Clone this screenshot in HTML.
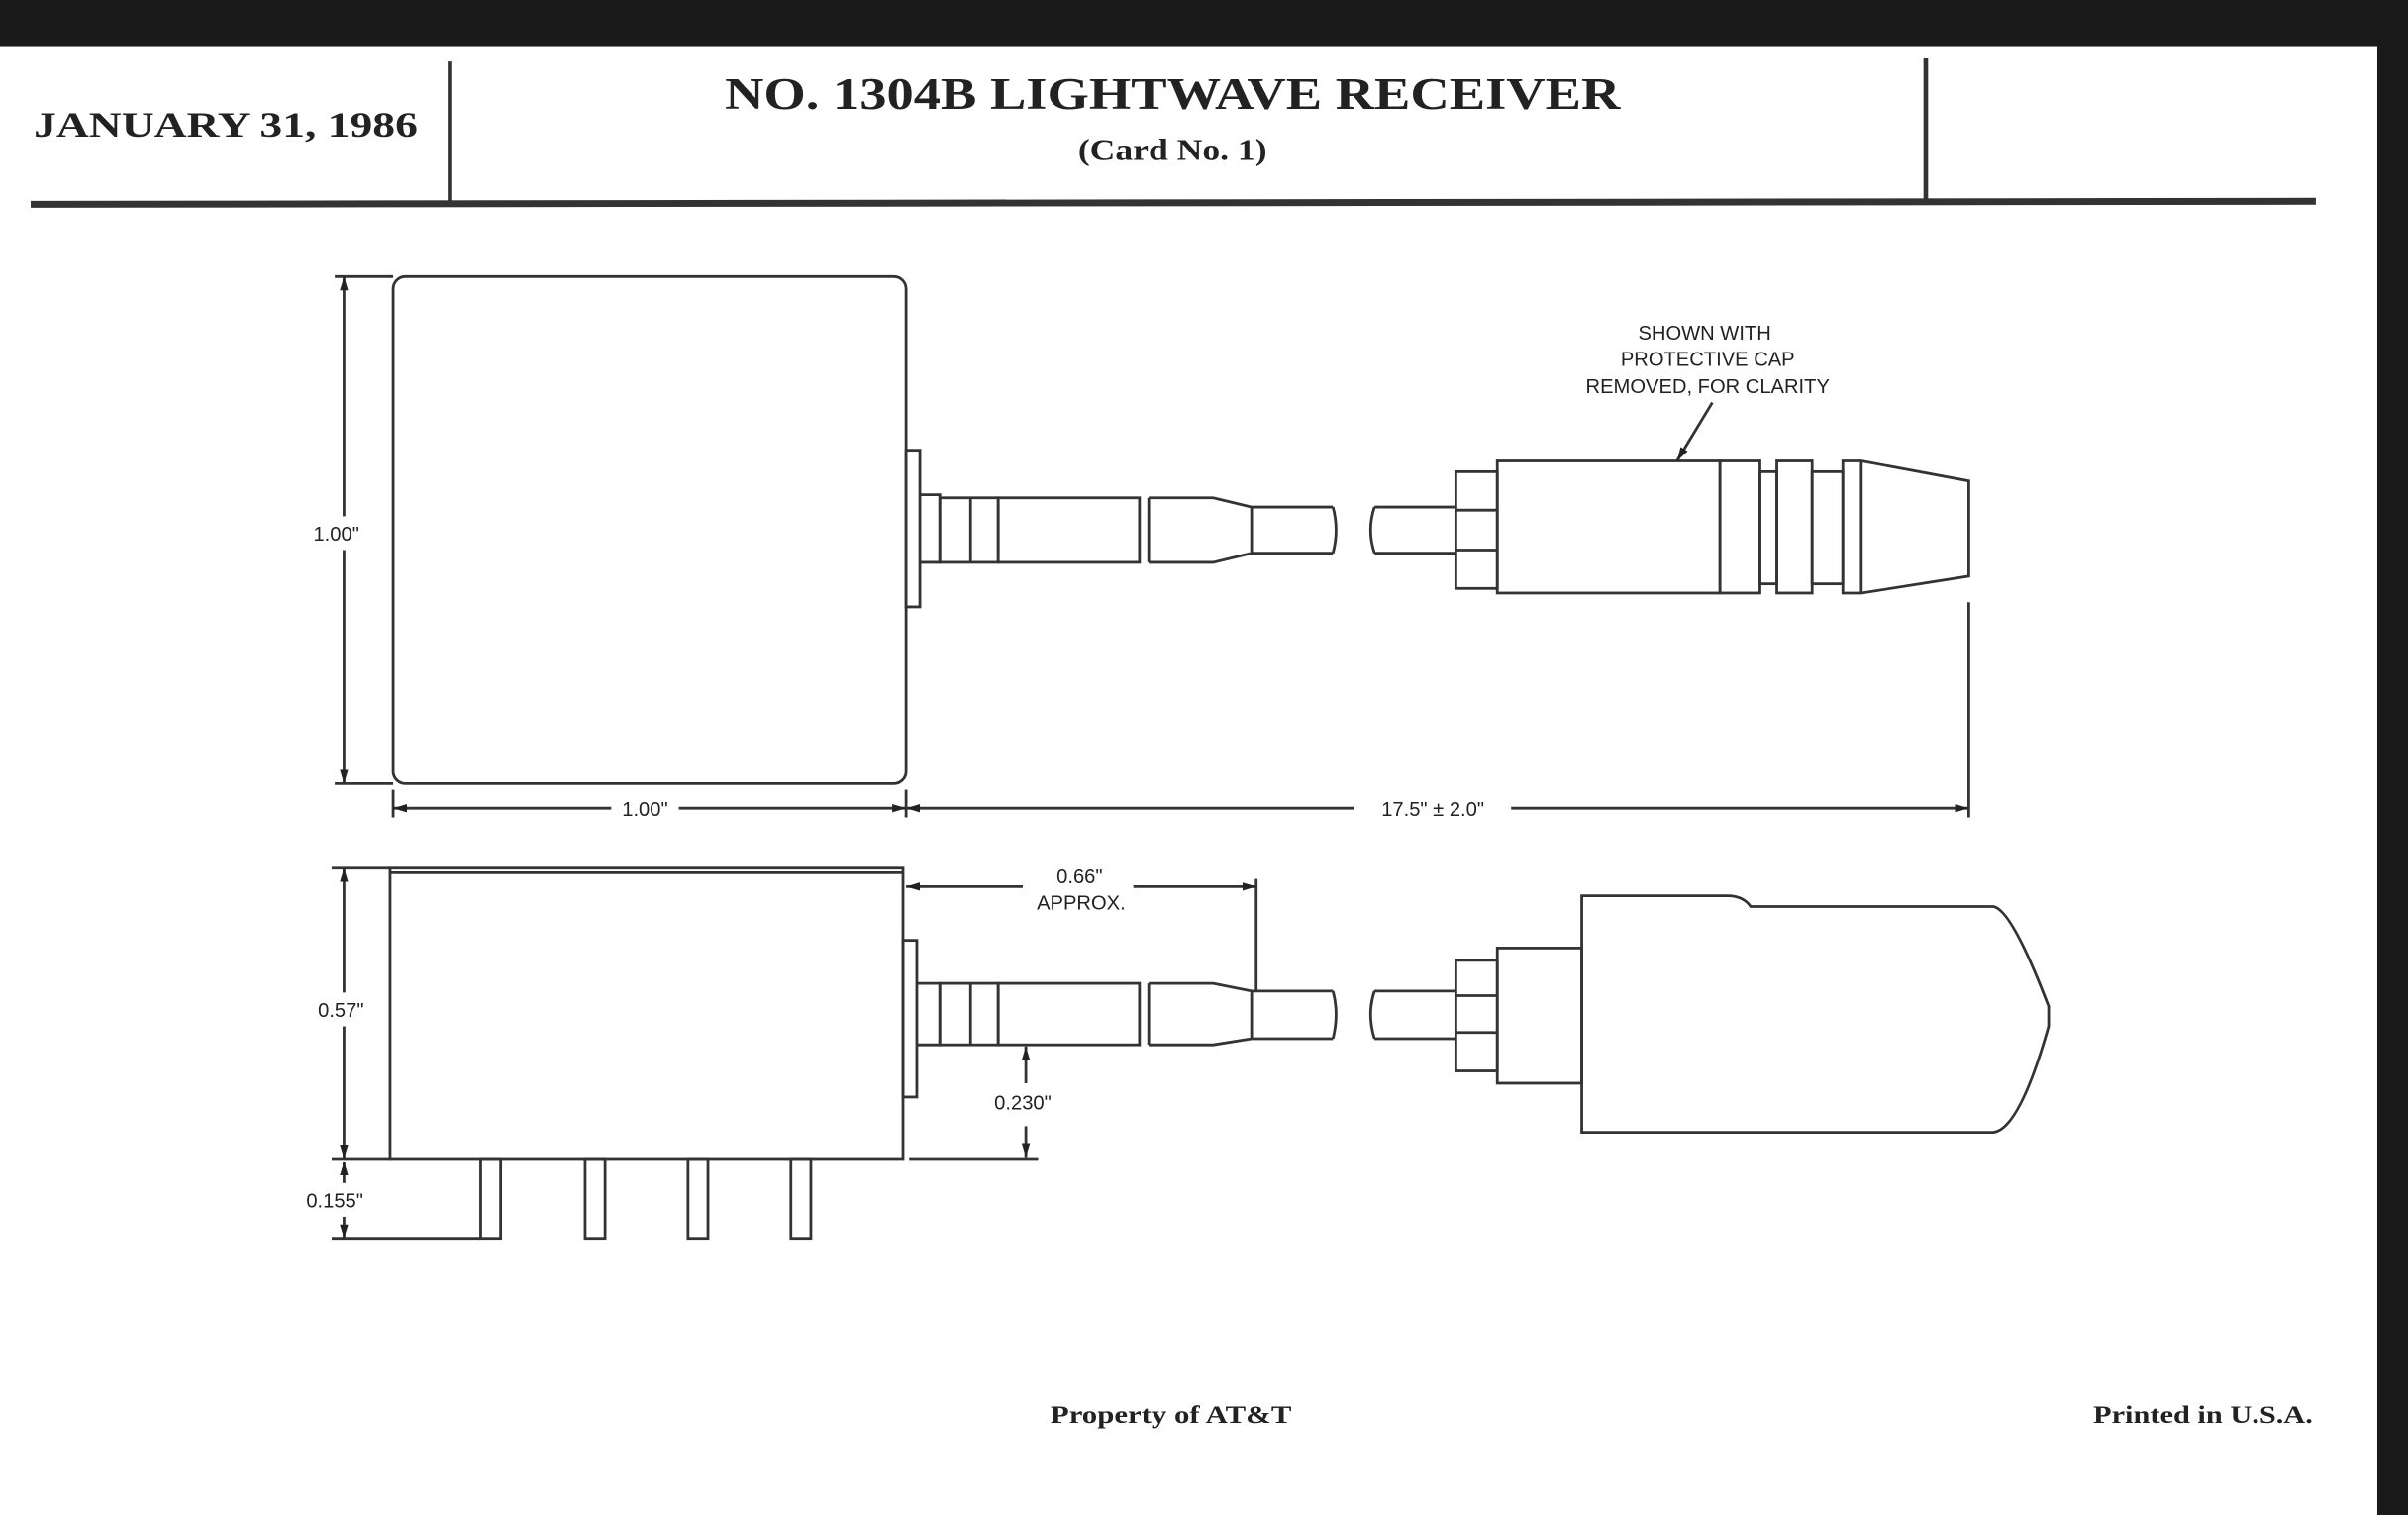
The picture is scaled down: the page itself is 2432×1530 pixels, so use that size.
<!DOCTYPE html>
<html><head><meta charset="utf-8"><style>
html,body{margin:0;padding:0;background:#fff;}
svg{display:block;}
.s{font-family:"Liberation Serif",serif;font-weight:bold;fill:#222;}
.d{font-family:"Liberation Sans",sans-serif;fill:#222;font-size:13px;}
</style></head><body>
<svg width="2432" height="1530" viewBox="0 0 1568 986" preserveAspectRatio="none" xmlns="http://www.w3.org/2000/svg">
<defs>
<marker id="a" viewBox="0 0 10 10" refX="10" refY="5" markerWidth="9" markerHeight="9" orient="auto-start-reverse" markerUnits="userSpaceOnUse"><path d="M0,2 L10,5 L0,8z" fill="#222"/></marker>
</defs>
<rect width="1568" height="986" fill="#fff"/>
<rect x="0" y="0" width="1568" height="30" fill="#1a1a1a"/>
<rect x="1548" y="0" width="20" height="986" fill="#1a1a1a"/>
<!-- header -->
<g stroke="#333" fill="none">
<line x1="293" y1="40" x2="293" y2="132" stroke-width="3"/>
<line x1="1254" y1="38" x2="1254" y2="130" stroke-width="3"/>
<line x1="20" y1="133" x2="1508" y2="131" stroke-width="4.5"/>
</g>
<text class="s" x="22" y="89" font-size="23" textLength="250" lengthAdjust="spacingAndGlyphs">JANUARY 31, 1986</text>
<text class="s" x="472" y="71" font-size="29" textLength="583" lengthAdjust="spacingAndGlyphs">NO. 1304B LIGHTWAVE RECEIVER</text>
<text class="s" x="702" y="104" font-size="20" font-weight="normal" textLength="123" lengthAdjust="spacingAndGlyphs">(Card No. 1)</text>
<g stroke="#333" stroke-width="1.8" fill="none">
<!-- top view -->
<rect x="256" y="180" width="334" height="330" rx="8"/>
<rect x="590" y="293" width="9" height="102"/>
<path d="M599,322 H612 V366 H599"/>
<rect x="612" y="324" width="38" height="42"/>
<line x1="632" y1="324" x2="632" y2="366"/>
<rect x="650" y="324" width="92" height="42"/>
<path d="M748,324 H790 L815,330 H868 M748,366 H790 L815,360 H868 M748,324 V366 M815,330 V360"/>
<path d="M868,330 Q872,345 868,360"/>
<path d="M895,330 Q890,345 895,360 M895,330 H948 M895,360 H948"/>
<rect x="948" y="307" width="27" height="76"/>
<line x1="948" y1="332" x2="975" y2="332"/><line x1="948" y1="358" x2="975" y2="358"/>
<rect x="975" y="300" width="145" height="86"/>
<rect x="1120" y="300" width="26" height="86"/>
<rect x="1146" y="307" width="11" height="73"/>
<rect x="1157" y="300" width="23" height="86"/>
<rect x="1180" y="307" width="20" height="73"/>
<path d="M1200,300 H1212 L1282,313 V375 L1212,386 H1200 Z M1212,300 V386"/>
<!-- top dims -->
<line x1="218" y1="180" x2="256" y2="180"/><line x1="218" y1="510" x2="256" y2="510"/>
<line x1="224" y1="180" x2="224" y2="336" marker-start="url(#a)"/>
<line x1="224" y1="358" x2="224" y2="510" marker-end="url(#a)"/>
<line x1="256" y1="514" x2="256" y2="532"/><line x1="590" y1="514" x2="590" y2="532"/>
<line x1="1282" y1="392" x2="1282" y2="532"/>
<line x1="256" y1="526" x2="398" y2="526" marker-start="url(#a)"/>
<line x1="442" y1="526" x2="590" y2="526" marker-end="url(#a)"/>
<line x1="590" y1="526" x2="882" y2="526" marker-start="url(#a)"/>
<line x1="984" y1="526" x2="1282" y2="526" marker-end="url(#a)"/>
<line x1="1115" y1="262" x2="1092" y2="300" marker-end="url(#a)"/>
<!-- side view -->
<rect x="254" y="565" width="334" height="189"/>
<line x1="254" y1="568" x2="588" y2="568"/>
<rect x="588" y="612" width="9" height="102"/>
<path d="M597,640 H612 V680 H597"/>
<rect x="612" y="640" width="38" height="40"/>
<line x1="632" y1="640" x2="632" y2="680"/>
<rect x="650" y="640" width="92" height="40"/>
<path d="M748,640 H790 L815,645 H868 M748,680 H790 L815,676 H868 M748,640 V680 M815,645 V676"/>
<path d="M868,645 Q872,660 868,676"/>
<path d="M895,645 Q890,660 895,676 M895,645 H948 M895,676 H948"/>
<rect x="948" y="625" width="27" height="72"/>
<line x1="948" y1="648" x2="975" y2="648"/><line x1="948" y1="672" x2="975" y2="672"/>
<rect x="975" y="617" width="55" height="88"/>
<path d="M1030,583 H1125 Q1135,583 1140,590 H1298 Q1310,592 1334,655 V668 Q1315,735 1298,737 H1030 Z"/>
<rect x="313" y="754" width="13" height="52"/>
<rect x="381" y="754" width="13" height="52"/>
<rect x="448" y="754" width="13" height="52"/>
<rect x="515" y="754" width="13" height="52"/>
<!-- side dims -->
<line x1="216" y1="565" x2="254" y2="565"/><line x1="216" y1="754" x2="254" y2="754"/>
<line x1="216" y1="806" x2="313" y2="806"/>
<line x1="224" y1="565" x2="224" y2="646" marker-start="url(#a)"/>
<line x1="224" y1="668" x2="224" y2="754" marker-end="url(#a)"/>
<line x1="224" y1="756" x2="224" y2="770" marker-start="url(#a)"/>
<line x1="224" y1="792" x2="224" y2="806" marker-end="url(#a)"/>
<line x1="590" y1="577" x2="666" y2="577" marker-start="url(#a)"/>
<line x1="738" y1="577" x2="818" y2="577" marker-end="url(#a)"/>
<line x1="818" y1="572" x2="818" y2="645"/>
<line x1="592" y1="754" x2="676" y2="754"/>
<line x1="668" y1="705" x2="668" y2="681" marker-end="url(#a)"/>
<line x1="668" y1="733" x2="668" y2="753" marker-end="url(#a)"/>
</g>
<text class="d" x="219" y="352" text-anchor="middle" font-size="14">1.00"</text>
<text class="d" x="420" y="531" text-anchor="middle" font-size="14">1.00"</text>
<text class="d" x="933" y="531" text-anchor="middle" font-size="14">17.5" ± 2.0"</text>
<text class="d" x="1110" y="221" text-anchor="middle">SHOWN WITH</text>
<text class="d" x="1112" y="238" text-anchor="middle">PROTECTIVE CAP</text>
<text class="d" x="1112" y="256" text-anchor="middle">REMOVED, FOR CLARITY</text>
<text class="d" x="222" y="662" text-anchor="middle" font-size="14">0.57"</text>
<text class="d" x="218" y="786" text-anchor="middle" font-size="14">0.155"</text>
<text class="d" x="703" y="575" text-anchor="middle" font-size="14">0.66"</text>
<text class="d" x="704" y="592" text-anchor="middle" font-size="13">APPROX.</text>
<text class="d" x="666" y="722" text-anchor="middle" font-size="14">0.230"</text>
<text class="s" x="684" y="926" font-size="16" textLength="157" lengthAdjust="spacingAndGlyphs">Property of AT&amp;T</text>
<text class="s" x="1363" y="926" font-size="16" textLength="143" lengthAdjust="spacingAndGlyphs">Printed in U.S.A.</text>
</svg>
</body></html>
